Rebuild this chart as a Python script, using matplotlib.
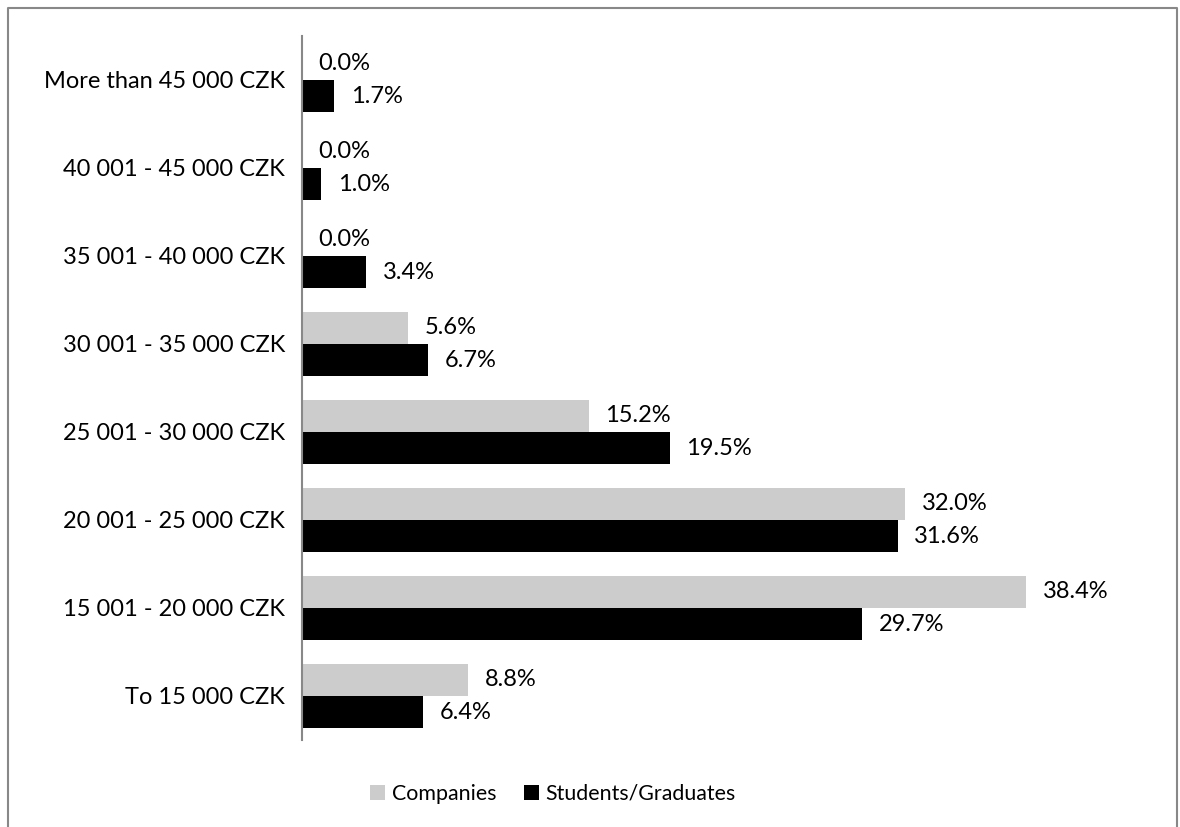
import matplotlib
matplotlib.use("Agg")
import matplotlib.pyplot as plt
from matplotlib.patches import Patch
from matplotlib.lines import Line2D
import numpy as np

categories = ["To 15 000 CZK", "15 001 - 20 000 CZK", "20 001 - 25 000 CZK",
              "25 001 - 30 000 CZK", "30 001 - 35 000 CZK", "35 001 - 40 000 CZK",
              "40 001 - 45 000 CZK", "More than 45 000 CZK"]
companies = [8.8, 38.4, 32.0, 15.2, 5.6, 0.0, 0.0, 0.0]
students = [6.4, 29.7, 31.6, 19.5, 6.7, 3.4, 1.0, 1.7]
series_names = ["Companies", "Students/Graduates"]
colors = ["#cccccc", "#000000"]

plt.rcParams['font.family'] = ['Lato', 'DejaVu Sans']

fig = plt.figure(figsize=(11.8, 8.27), dpi=100)
ax = fig.add_axes([302/1180, 1-740/827, (1056-302)/1180, (740-36)/827])

y = np.arange(len(categories))
h = 0.364
ax.barh(y + h/2, companies, height=h, color=colors[0], label=series_names[0])
ax.barh(y - h/2, students, height=h, color=colors[1], label=series_names[1])

fs = 17
for yi, v in zip(y, companies):
    ax.annotate(f"{v:.1f}%", (v, yi + h/2), xytext=(12, 0), textcoords="offset points",
                va="center", ha="left", fontsize=fs)
for yi, v in zip(y, students):
    ax.annotate(f"{v:.1f}%", (v, yi - h/2), xytext=(12, 0), textcoords="offset points",
                va="center", ha="left", fontsize=fs)

ax.set_xlim(0, 40)
ax.set_ylim(-0.5, len(categories) - 0.5)
ax.set_yticks(y)
ax.set_yticklabels(categories, fontsize=fs)
ax.set_xticks([])
ax.tick_params(axis='y', length=0, pad=12)
for s in ["top", "right", "bottom"]:
    ax.spines[s].set_visible(False)
ax.spines["left"].set_color("#888888")
ax.spines["left"].set_linewidth(1.5)

handles = [Patch(facecolor=c, edgecolor='none') for c in colors]
fig.legend(handles, series_names, loc="center", bbox_to_anchor=(553/1180, 1-794/827),
           ncol=2, frameon=False, fontsize=15.4, handlelength=0.7, handleheight=0.7,
           handletextpad=0.3, columnspacing=1.3)

# outer frame (bottom edge open)
fx0, fx1, fy1 = 8/1180, 1177/1180, 1-8/827
frame = Line2D([fx0, fx0, fx1, fx1], [-0.01, fy1, fy1, -0.01], transform=fig.transFigure,
               color="#888888", lw=1.5)
fig.add_artist(frame)

fig.savefig("out.png", dpi=100)
